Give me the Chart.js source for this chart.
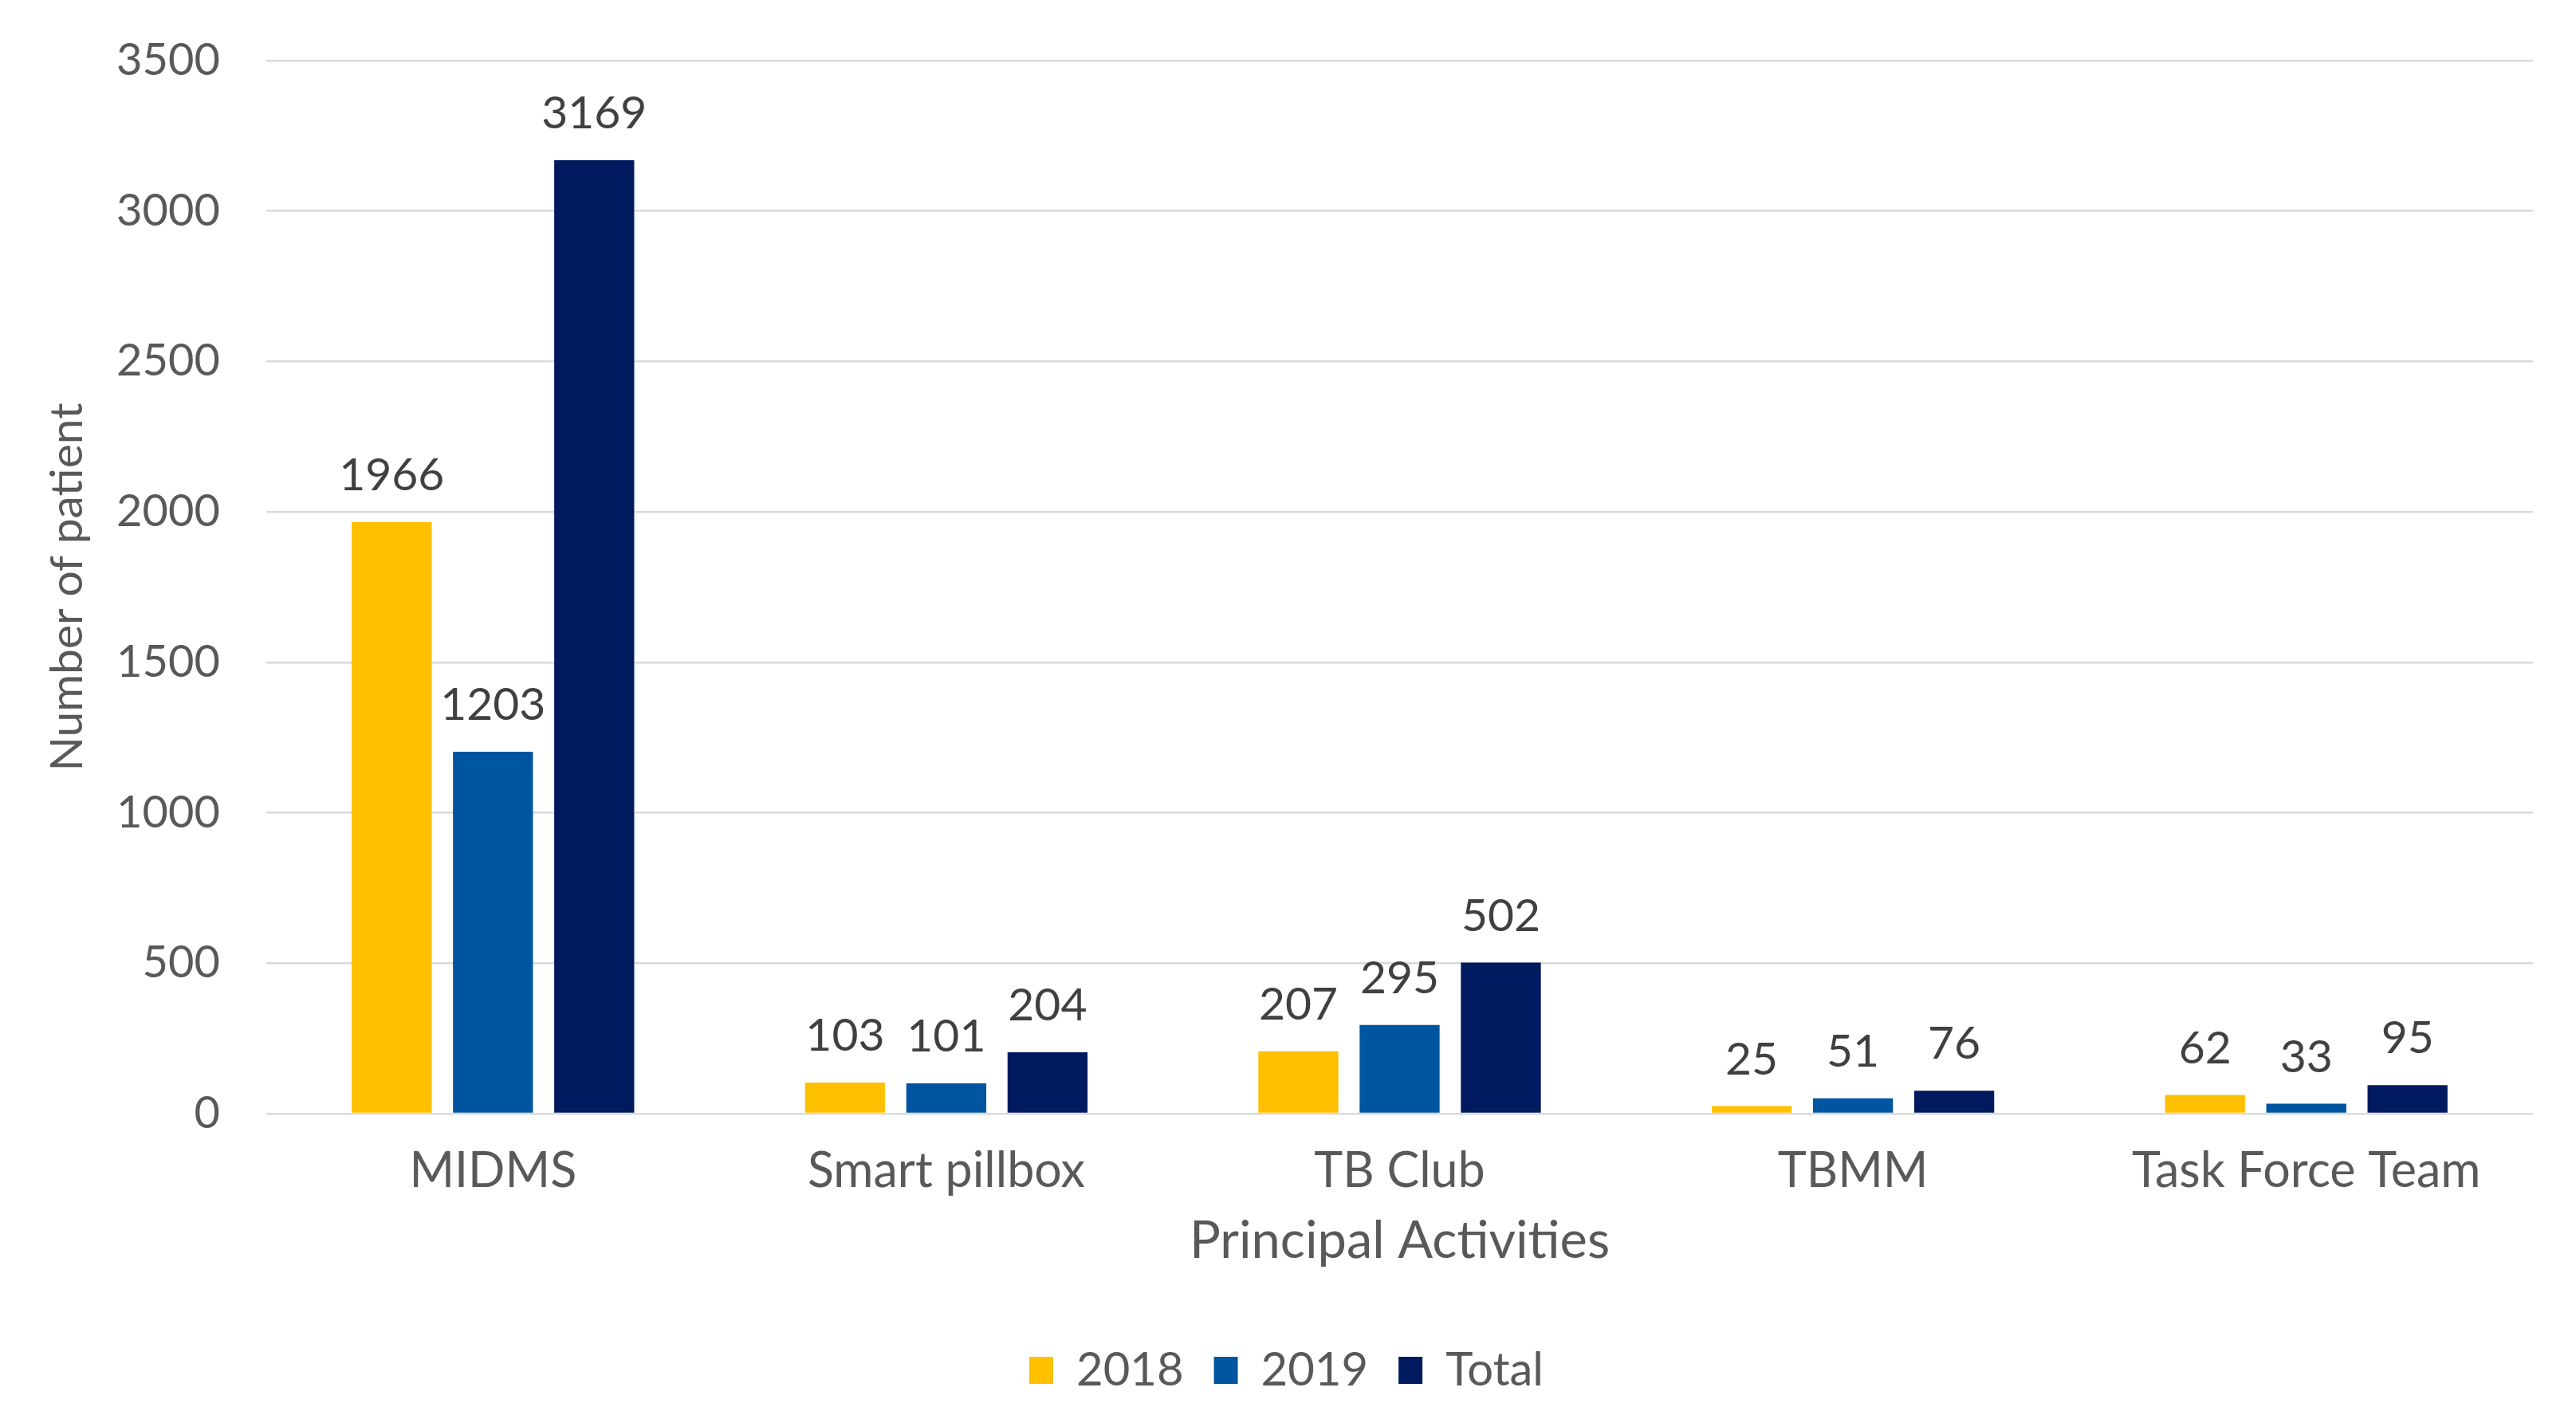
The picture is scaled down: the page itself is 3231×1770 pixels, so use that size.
<!DOCTYPE html>
<html>
<head>
<meta charset="utf-8">
<title>Principal Activities</title>
<script src="https://cdn.jsdelivr.net/npm/chart.js@4.4.1/dist/chart.umd.min.js"></script>
<style>
  html, body { margin: 0; padding: 0; background: #ffffff; }
  #wrap { width: 3231px; height: 1770px; }
</style>
</head>
<body>
<div id="wrap"><canvas id="chart" width="3231" height="1770"></canvas></div>
<script>
// data
const categories = ["MIDMS", "Smart pillbox", "TB Club", "TBMM", "Task Force Team"];
const values2018 = [1966, 103, 207, 25, 62];
const values2019 = [1203, 101, 295, 51, 33];
const valuesTotal = [3169, 204, 502, 76, 95];
const yTicks = [0, 500, 1000, 1500, 2000, 2500, 3000, 3500];

const textColor = "#595959";
const fontFamily = "Lato, 'Open Sans', sans-serif";

// draws the number above each bar
const barValues = {
  id: "barValues",
  afterDatasetsDraw(chart) {
    const ctx = chart.ctx;
    ctx.save();
    ctx.fillStyle = "#404040";
    ctx.font = "57px " + fontFamily;
    ctx.textAlign = "center";
    ctx.textBaseline = "alphabetic";
    chart.data.datasets.forEach((ds, i) => {
      const meta = chart.getDatasetMeta(i);
      meta.data.forEach((bar, j) => {
        ctx.fillText(String(ds.data[j]), bar.x, bar.y - 40);
      });
    });
    ctx.restore();
  }
};

new Chart(document.getElementById("chart"), {
  type: "bar",
  data: {
    labels: categories,
    datasets: [
      { label: "2018", data: values2018, backgroundColor: "#FFC000" },
      { label: "2019", data: values2019, backgroundColor: "#0055A0" },
      { label: "Total", data: valuesTotal, backgroundColor: "#00195F" }
    ]
  },
  options: {
    responsive: false,
    devicePixelRatio: 1,
    animation: false,
    layout: { padding: { top: 76, right: 54, left: 50, bottom: 12 } },
    datasets: {
      bar: { categoryPercentage: 0.67, barPercentage: 0.79 }
    },
    scales: {
      x: {
        afterFit(axis) {
          axis.height = 255;
        },
        grid: { display: false },
        border: { display: false },
        ticks: { color: textColor, font: { family: fontFamily, size: 61 }, padding: 28 },
        title: {
          display: true,
          text: "Principal Activities",
          color: textColor,
          font: { family: fontFamily, size: 65 },
          padding: { top: 0, bottom: 56 }
        }
      },
      y: {
        min: 0,
        max: 3500,
        afterBuildTicks(axis) {
          axis.ticks = yTicks.map((v) => ({ value: v }));
        },
        afterFit(axis) {
          axis.width = 284;
          axis.paddingTop = 20;
          axis.paddingBottom = 20;
        },
        grid: { color: "#D9D9D9", lineWidth: 2.5, drawTicks: false },
        border: { display: false },
        ticks: {
          color: textColor,
          font: { family: fontFamily, size: 56 },
          padding: 58,
          callback: (v) => String(v)
        },
        title: {
          display: true,
          text: "Number of patient",
          color: textColor,
          font: { family: fontFamily, size: 57 },
          padding: { top: 0, bottom: 40 }
        }
      }
    },
    plugins: {
      legend: {
        position: "bottom",
        labels: {
          color: textColor,
          font: { family: fontFamily, size: 58 },
          boxWidth: 30,
          boxHeight: 34,
          padding: 38
        }
      },
      tooltip: { enabled: false }
    }
  },
  plugins: [barValues]
});
</script>
</body>
</html>
